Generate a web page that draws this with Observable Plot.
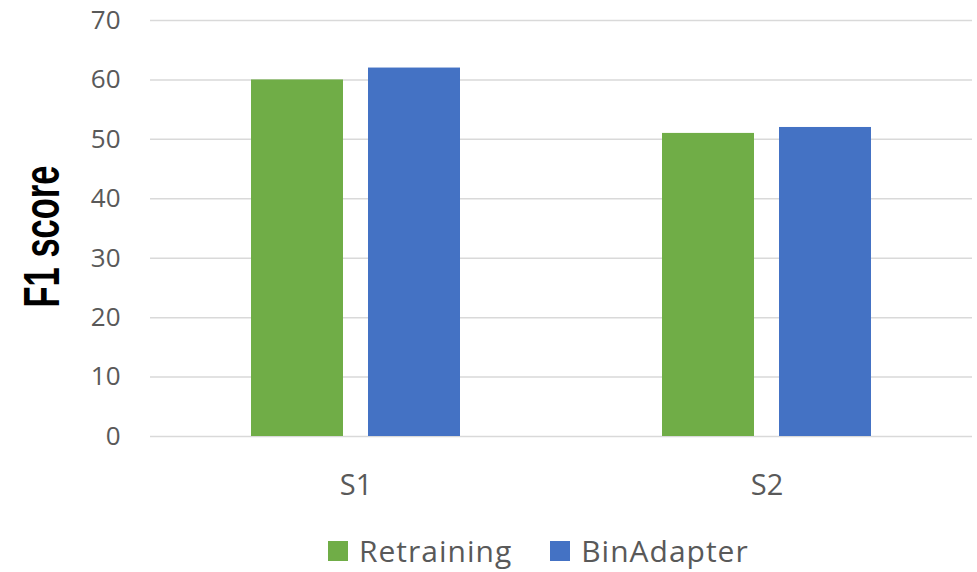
<!DOCTYPE html>
<html>
<head>
<meta charset="utf-8">
<script src="https://cdn.jsdelivr.net/npm/d3@7"></script>
<script src="https://cdn.jsdelivr.net/npm/@observablehq/plot@0.6"></script>
<style>
  html, body { margin: 0; padding: 0; background: #fff; }
  body { width: 977px; height: 572px; position: relative; overflow: hidden; font-family: "Open Sans", sans-serif; }
  #legend { position: absolute; left: 328px; top: 536px; height: 30px; display: flex; align-items: center; font-size: 30px; line-height: 30px; letter-spacing: 1px; color: #595959; white-space: nowrap; }
  .item { display: flex; align-items: center; margin-right: 38px; }
  .sw { width: 20px; height: 20px; margin-right: 11px; flex: none; }
</style>
</head>
<body>
<div id="chart"></div>
<div id="legend"></div>
<script>
const categories = ["S1", "S2"];
const series = ["Retraining", "BinAdapter"];
const retraining = [60, 51];
const binAdapter = [62, 52];
const colors = ["#70AD47", "#4472C4"];
const yTicks = [0, 10, 20, 30, 40, 50, 60, 70];
const yLabel = "F1 score";

const data = [];
categories.forEach((c, i) => {
  data.push({category: c, series: series[0], value: retraining[i]});
  data.push({category: c, series: series[1], value: binAdapter[i]});
});

const chart = Plot.plot({
  width: 977,
  height: 520,
  marginLeft: 150,
  marginRight: 5,
  marginTop: 20,
  marginBottom: 84,
  style: {fontFamily: "'Open Sans', sans-serif", color: "#595959", background: "#fff"},
  fx: {domain: categories, padding: 0, label: null},
  x: {domain: series, paddingInner: 0.2137, paddingOuter: 0.863, axis: null},
  y: {domain: [0, 70], label: null},
  color: {domain: series, range: colors},
  marks: [
    Plot.ruleY(yTicks, {stroke: "#d9d9d9", strokeWidth: 1.5}),
    Plot.barY(data, {fx: "category", x: "series", y: "value", fill: "series"}),
    Plot.axisY(yTicks, {tickSize: 0, tickPadding: 30, fontSize: 26, label: null}),
    Plot.axisFx({anchor: "bottom", tickSize: 0, tickPadding: 38, fontSize: 29, label: null}),
    Plot.text([yLabel], {fx: () => categories[0], frameAnchor: "left", textAnchor: "middle", lineAnchor: "middle", dx: -108, dy: 8, rotate: -90, fontSize: 50, fontWeight: 700, fontFamily: "'Liberation Sans Narrow', 'Liberation Sans', sans-serif", fill: "#000", text: d => d})
  ]
});
d3.select(chart).selectAll("text")
  .filter(function() { return this.textContent === yLabel; })
  .attr("textLength", 142)
  .attr("lengthAdjust", "spacingAndGlyphs");
document.getElementById("chart").appendChild(chart);

const legend = document.getElementById("legend");
series.forEach((s, i) => {
  const item = document.createElement("div");
  item.className = "item";
  const sw = document.createElement("span");
  sw.className = "sw";
  sw.style.background = colors[i];
  const t = document.createElement("span");
  t.textContent = s;
  item.appendChild(sw);
  item.appendChild(t);
  legend.appendChild(item);
});
</script>
</body>
</html>
